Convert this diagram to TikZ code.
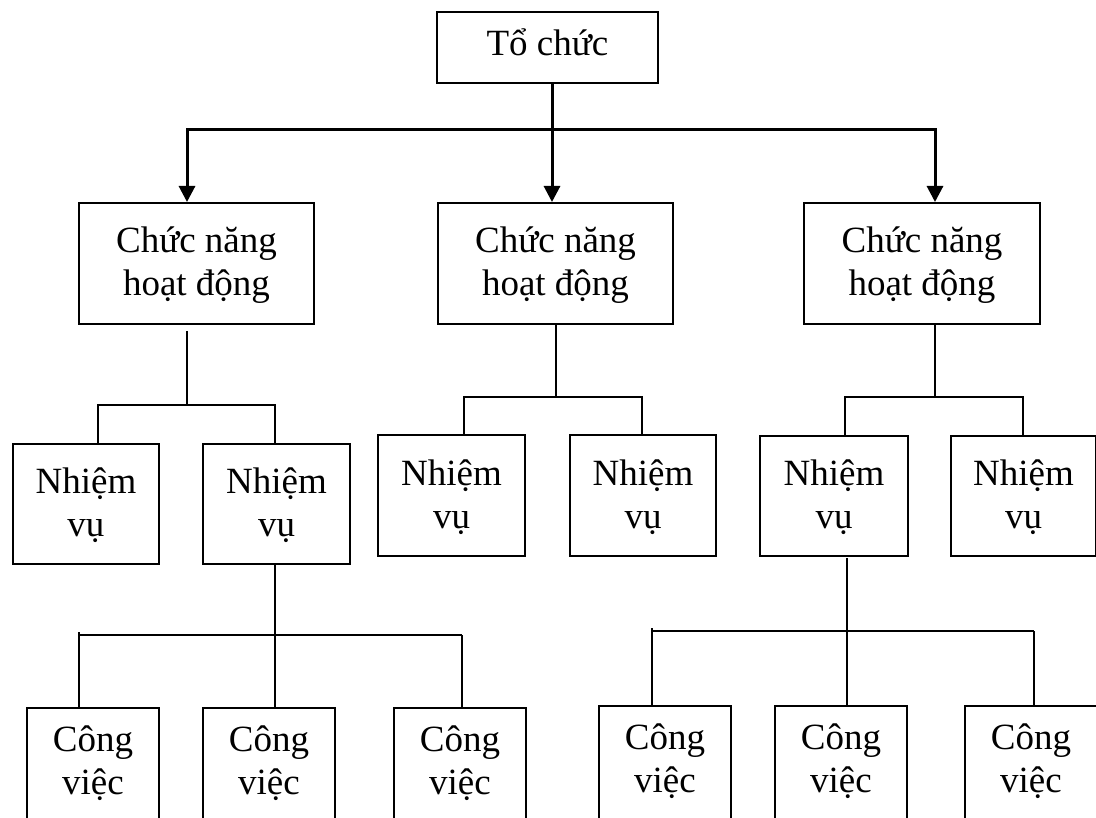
\documentclass[tikz,border=0pt]{standalone}
\usepackage{fontspec}
\setmainfont{Liberation Serif}
\usetikzlibrary{arrows.meta}
% line struts: fixed height/depth so every box places its text the same way
\newcommand{\lnA}{\rule[-10.5pt]{0pt}{43pt}}
\newcommand{\lnB}{\rule[-13pt]{0pt}{43pt}}
% deeper strut for the last line of the bottom boxes, which run past the page
\newcommand{\lnC}{\rule[-32.5pt]{0pt}{65pt}}
\begin{document}
\begin{tikzpicture}[x=1pt,y=-1pt,
  box/.style={draw, line width=2pt, inner sep=0pt, anchor=north west,
    align=center, font=\fontsize{37}{43}\selectfont},
  link/.style={line width=2pt},
  feed/.style={line width=3pt, -{Triangle[length=16pt,width=16pt]}}]
\useasboundingbox (0,0) rectangle (1096,818);
\clip (0,0) rectangle (1096,818);

% top level
\node[box, minimum width=221pt, minimum height=71pt] (org) at (436,11) {\lnB Tổ chức};

% functions
\node[box, minimum width=235pt, minimum height=121pt] (f1) at (78,202) {\lnA Chức năng\\\lnA hoạt động};
\node[box, minimum width=235pt, minimum height=121pt] (f2) at (437,202) {\lnA Chức năng\\\lnA hoạt động};
\node[box, minimum width=236pt, minimum height=121pt] (f3) at (803,202) {\lnA Chức năng\\\lnA hoạt động};

% tasks
\node[box, minimum width=146pt, minimum height=120pt] (n1) at (12,443) {\lnA Nhiệm\\\lnA vụ};
\node[box, minimum width=147pt, minimum height=120pt] (n2) at (202,443) {\lnA Nhiệm\\\lnA vụ};
\node[box, minimum width=147pt, minimum height=121pt] (n3) at (377,434) {\lnA Nhiệm\\\lnA vụ};
\node[box, minimum width=146pt, minimum height=121pt] (n4) at (569,434) {\lnA Nhiệm\\\lnA vụ};
\node[box, minimum width=148pt, minimum height=120pt] (n5) at (759,435) {\lnA Nhiệm\\\lnA vụ};
\node[box, minimum width=145pt, minimum height=120pt] (n6) at (950,435) {\lnA Nhiệm\\\lnA vụ};

% jobs
\node[box, minimum width=132pt, minimum height=130pt] (c1) at (26,707) {\lnA Công\\\lnC việc};
\node[box, minimum width=132pt, minimum height=130pt] (c2) at (202,707) {\lnA Công\\\lnC việc};
\node[box, minimum width=132pt, minimum height=130pt] (c3) at (393,707) {\lnA Công\\\lnC việc};
\node[box, minimum width=132pt, minimum height=130pt] (c4) at (598,705) {\lnA Công\\\lnC việc};
\node[box, minimum width=132pt, minimum height=130pt] (c5) at (774,705) {\lnA Công\\\lnC việc};
\node[box, minimum width=132pt, minimum height=130pt] (c6) at (964,705) {\lnA Công\\\lnC việc};

% junction points
\coordinate (tm) at (552,130);
\coordinate (tl) at (187,130);
\coordinate (tr) at (935,130);
\coordinate (a0) at (187,331);
\coordinate (la) at (98,405);
\coordinate (lb) at (275,405);
\coordinate (ma) at (464,397);
\coordinate (mb) at (642,397);
\coordinate (rj) at (935,397);
\coordinate (ra) at (845,397);
\coordinate (rb) at (1023,397);
\coordinate (lj0) at (275,565);
\coordinate (lj) at (275,635);
\coordinate (lca) at (79,635);
\coordinate (lcb) at (462,635);
\coordinate (rj0) at (847,558);
\coordinate (rj1) at (847,631);
\coordinate (rca) at (652,631);
\coordinate (rcb) at (1034,631);

% organisation -> functions
\draw[feed] (tm) -- (tl) -- (tl |- f1.north);
\draw[feed] (tm) -- (tr) -- (tr |- f3.north);
\draw[feed] (tm |- org.south) -- (tm |- f2.north);

% functions -> tasks
\draw[link] (a0) -- (a0 |- la);
\draw[link] (la |- n1.north) -- (la) -- (lb) -- (lb |- n2.north);
\draw[link] (f2.south) -- (f2.south |- ma);
\draw[link] (ma |- n3.north) -- (ma) -- (mb) -- (mb |- n4.north);
\draw[link] (rj |- f3.south) -- (rj);
\draw[link] (ra |- n5.north) -- (ra) -- (rb) -- (rb |- n6.north);

% tasks -> jobs
\draw[link] (lj0) -- (lj);
\draw[link] (lca) -- (lcb);
\draw[link] ([yshift=3pt]lca) -- (lca |- c1.north);
\draw[link] (lj) -- (lj |- c2.north);
\draw[link] (lcb) -- (lcb |- c3.north);
\draw[link] (rj0) -- (rj1);
\draw[link] (rca) -- (rcb);
\draw[link] ([yshift=3pt]rca) -- (rca |- c4.north);
\draw[link] (rj1) -- (rj1 |- c5.north);
\draw[link] (rcb) -- (rcb |- c6.north);
\end{tikzpicture}
\end{document}
